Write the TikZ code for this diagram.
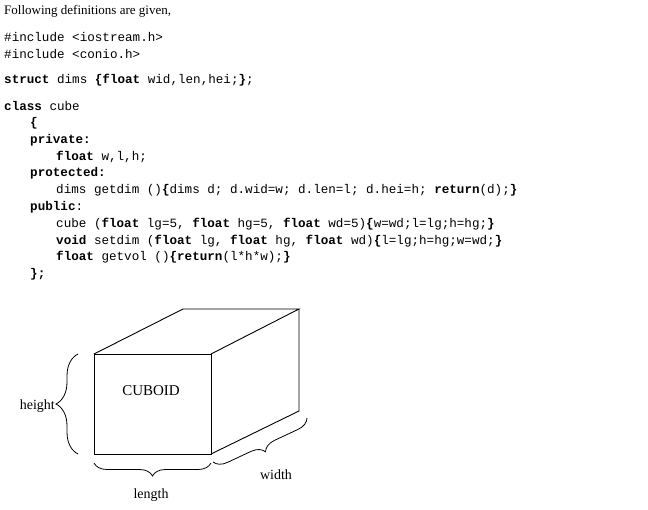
\documentclass[tikz,border=0pt]{standalone}
\usepackage{fontspec}
\setmainfont{Liberation Serif}
\setmonofont{Liberation Mono}
\usetikzlibrary{decorations.pathreplacing}
\begin{document}
\begin{tikzpicture}[x=1pt,y=1pt,
  code/.style={anchor=west,inner sep=0pt,font=\fontsize{12.6}{14}\selectfont\ttfamily},
  txt/.style={inner sep=0pt,font=\fontsize{14}{16}\selectfont},
  edge/.style={line width=0.9pt},
  brc/.style={decorate,decoration={brace,amplitude=13pt},line width=0.8pt}]
\useasboundingbox[fill=white] (0,0) rectangle (648,-510);
\node[txt,anchor=west,font=\fontsize{13}{15}\selectfont] (h) at (4,-11) {Following definitions are given,};
\node[code] (l1) at (4,-37) {\#include <iostream.h>};
\node[code] (l2) at (4,-54) {\#include <conio.h>};
\node[code] (l3) at (4,-80) {\textbf{struct} dims \textbf{\{float} wid,len,hei;\textbf{\}};};
\node[code] (l4) at (4,-106) {\textbf{class} cube};
\node[code] (l5) at (30,-123) {\textbf{\{}};
\node[code] (l6) at (30,-140) {\textbf{private:}};
\node[code] (l7) at (56,-157) {\textbf{float} w,l,h;};
\node[code] (l8) at (30,-173) {\textbf{protected:}};
\node[code] (l9) at (56,-190) {dims getdim ()\textbf{\{}dims d; d.wid=w; d.len=l; d.hei=h; \textbf{return}(d);\textbf{\}}};
\node[code] (l10) at (30,-207) {\textbf{public}:};
\node[code] (l11) at (56,-224) {cube (\textbf{float} lg=5, \textbf{float} hg=5, \textbf{float} wd=5)\textbf{\{}w=wd;l=lg;h=hg;\textbf{\}}};
\node[code] (l12) at (56,-241) {\textbf{void} setdim (\textbf{float} lg, \textbf{float} hg, \textbf{float} wd)\textbf{\{}l=lg;h=hg;w=wd;\textbf{\}}};
\node[code] (l13) at (56,-257) {\textbf{float} getvol ()\textbf{\{return}(l*h*w);\textbf{\}}};
\node[code] (l14) at (30,-274) {\textbf{\};}};
% cuboid
\coordinate (A) at (94,-354);
\coordinate (B) at (211,-354);
\coordinate (C) at (211,-454);
\coordinate (D) at (94,-454);
\coordinate (E) at (183,-309);
\coordinate (F) at (299,-309);
\coordinate (G) at (299,-411);
\draw[edge] (A) -- (B) -- (C) -- (D) -- cycle;
\draw[edge] (A) -- (E) -- (F) -- (B);
\draw[edge] (F) -- (G) -- (C);
\node[txt,font=\fontsize{15}{17}\selectfont] (cub) at (151,-391) {CUBOID};
\draw[decorate,decoration={brace,amplitude=22pt},line width=0.8pt] (78,-454) -- (78,-354);
\node[txt,anchor=east] (ht) at (55,-406) {height};
\draw[brc] (211,-463) -- (94,-463);
\node[txt] (ln) at (151,-495) {length};
\draw[brc] (307,-418) -- (213,-462);
\node[txt] (wd) at (276,-475) {width};
\end{tikzpicture}
\end{document}
